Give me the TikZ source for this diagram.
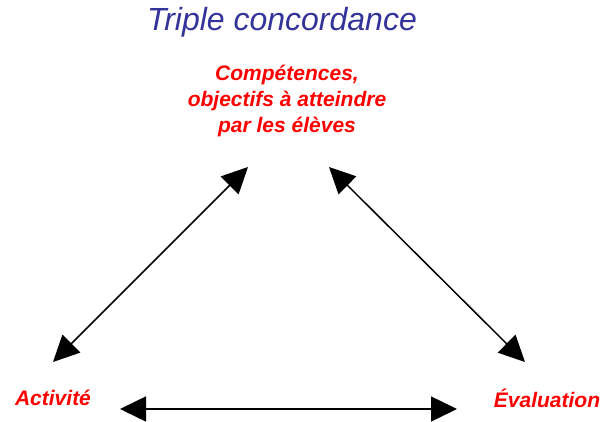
\documentclass[tikz,border=0pt]{standalone}
\usepackage{fontspec}
\setmainfont{Liberation Sans}
\usetikzlibrary{arrows.meta}

\definecolor{titleblue}{RGB}{51,51,153}

\tikzset{
  pole/.style={text=red, font=\fontsize{21}{26}\selectfont\bfseries\itshape, align=center, inner sep=0pt},
  link/.style={{Triangle[length=26pt,width=25pt]}-{Triangle[length=26pt,width=25pt]}, line width=1.5pt}
}

\begin{document}
\begin{tikzpicture}[x=1pt,y=-1pt]
\useasboundingbox (0,0) rectangle (602,422);

%\draw[help lines] (0,0) grid[step=50] (602,422);

\node[text=titleblue, font=\fontsize{32}{36}\selectfont\itshape, inner sep=0pt] (title) at (282,22) {Triple concordance};

\node[pole] (comp) at (287,101) {Compétences,\\objectifs à atteindre\\par les élèves};
\node[pole] (act) at (53,398) {Activité};
\node[pole] (eval) at (547,398) {Évaluation};

\coordinate (compl) at (248,167);
\coordinate (compr) at (329,167);
\coordinate (actu) at (53,362);
\coordinate (actr) at (120,409);
\coordinate (evalu) at (525,362);
\coordinate (evall) at (457,409);

\draw[link] (compl) -- (actu);
\draw[link] (compr) -- (evalu);
\draw[link] (actr) -- (evall);
\end{tikzpicture}
\end{document}
